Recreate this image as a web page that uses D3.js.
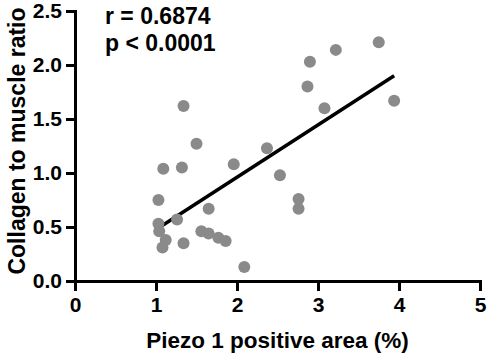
<!DOCTYPE html>
<html>
<head>
<meta charset="utf-8">
<script src="https://cdn.jsdelivr.net/npm/d3@7"></script>
<style>
  body { margin: 0; background: #fff; }
  text { font-family: "Liberation Sans", Arial, sans-serif; font-weight: bold; }
</style>
</head>
<body>
<script>
// Collagen vs Piezo 1 scatter with linear fit

const w = 487;
const h = 355;
const margin = { top: 11, right: 7, bottom: 74, left: 75 };

// data
const piezoArea = [1.03, 1.03, 1.04, 1.12, 1.08, 1.09, 1.26, 1.32, 1.34, 1.34, 1.50,
  1.56, 1.65, 1.65, 1.77, 1.86, 1.96, 2.09, 2.37, 2.53, 2.76, 2.76,
  2.87, 2.90, 3.08, 3.22, 3.75, 3.94];
const collagenRatio = [0.75, 0.53, 0.46, 0.38, 0.31, 1.04, 0.57, 1.05, 0.35, 1.62, 1.27,
  0.46, 0.44, 0.67, 0.40, 0.37, 1.08, 0.13, 1.23, 0.98, 0.76, 0.67,
  1.80, 2.03, 1.60, 2.14, 2.21, 1.67];

// fitted line ends
const fitX = [1.03, 3.94];
const fitY = [0.49, 1.90];

const xTicks = [0, 1, 2, 3, 4, 5];
const yTicks = [0, 0.5, 1.0, 1.5, 2.0, 2.5];
const statLines = ["r = 0.6874", "p < 0.0001"];

const xTitle = "Piezo 1 positive area (%)";
const yTitle = "Collagen to muscle ratio";

const svg = d3.select("body")
  .append("svg")
  .attr("width", w)
  .attr("height", h);

const x_scale = d3.scaleLinear()
  .domain([0, 5])
  .range([margin.left, w - margin.right]);

const y_scale = d3.scaleLinear()
  .domain([0, 2.5])
  .range([h - margin.bottom, margin.top]);

const fit = fitX.map((d, i) => ({ x: d, y: fitY[i] }));
const points = piezoArea.map((d, i) => ({ x: d, y: collagenRatio[i] }));

svg.append("path")
  .datum(fit)
  .attr("fill", "none")
  .attr("stroke", "#000")
  .attr("stroke-width", 3.5)
  .attr("d", d3.line().x(d => x_scale(d.x)).y(d => y_scale(d.y)));

svg.selectAll("circle")
  .data(points)
  .enter()
  .append("circle")
  .attr("cx", d => x_scale(d.x))
  .attr("cy", d => y_scale(d.y))
  .attr("r", 6)
  .attr("fill", "#8a8a8a");

const x_axis = d3.axisBottom(x_scale)
  .tickValues(xTicks)
  .tickFormat(d3.format("d"))
  .tickSize(10)
  .tickSizeOuter(0)
  .tickPadding(6);

const y_axis = d3.axisLeft(y_scale)
  .tickValues(yTicks)
  .tickFormat(d3.format(".1f"))
  .tickSize(9)
  .tickSizeOuter(0)
  .tickPadding(4);

const gx = svg.append("g")
  .attr("class", "x axis")
  .attr("transform", `translate(0,${h - margin.bottom})`)
  .call(x_axis);

const gy = svg.append("g")
  .attr("class", "y axis")
  .attr("transform", `translate(${margin.left},0)`)
  .call(y_axis);

[gx, gy].forEach(g => {
  g.select(".domain").attr("stroke-width", 3).attr("stroke-linecap", "square");
  g.selectAll(".tick line").attr("stroke-width", 3);
  g.selectAll(".tick text")
    .attr("fill", "#000")
    .style("font-size", "21px");
});

svg.append("text")
  .attr("x", (margin.left + w - margin.right) / 2)
  .attr("y", 348)
  .attr("text-anchor", "middle")
  .style("font-size", "22.5px")
  .text(xTitle);

svg.append("text")
  .attr("transform", "translate(25,141) rotate(-90)")
  .attr("text-anchor", "middle")
  .style("font-size", "23px")
  .text(yTitle);

svg.selectAll(".stat")
  .data(statLines)
  .enter()
  .append("text")
  .attr("class", "stat")
  .attr("x", 105)
  .attr("y", (d, i) => 24 + i * 27)
  .style("font-size", "23px")
  .text(d => d);
</script>
</body>
</html>
